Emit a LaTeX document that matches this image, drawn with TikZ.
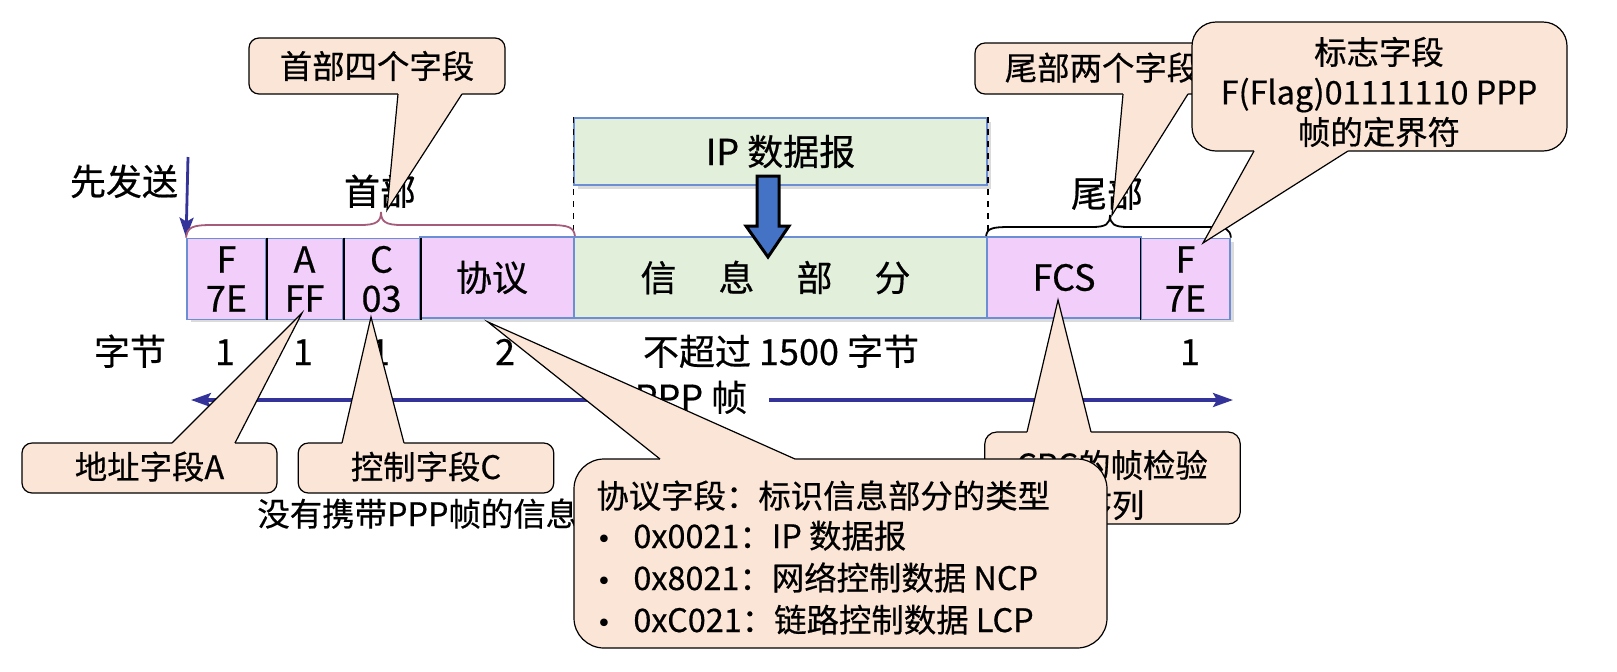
\documentclass[tikz,border=0pt]{standalone}
\usepackage{fontspec}
\setmainfont{Noto Sans CJK SC}[FakeBold=0.5]
\newfontfamily\dejavu{DejaVu Sans}
\usetikzlibrary{arrows.meta,calc}
\definecolor{cofill}{HTML}{FBE5D6}
\definecolor{pinkf}{HTML}{F2CFFA}
\definecolor{greenf}{HTML}{E2EFDA}
\definecolor{boxb}{HTML}{6C8ED4}
\definecolor{navy}{HTML}{333399}
\definecolor{barrow}{HTML}{4472C4}
\definecolor{mauve}{HTML}{A65B7A}
\newcommand{\myfs}{\fontsize{16.2pt}{19.5pt}\selectfont}
\newcommand{\bigfs}{\fontsize{18pt}{20pt}\selectfont}
\newcommand{\cptr}[4]{%
  \fill[cofill] ($#1+#4$) -- #1 -- #3 -- #2 -- ($#2+#4$) -- cycle;
  \draw[line width=0.6pt,line join=miter] #1 -- #3 -- #2;}
\begin{document}
\begin{tikzpicture}[x=0.5pt,y=-0.5pt,font=\myfs,
  every node/.style={inner sep=0pt},
  txt/.style={text height=0.8em,text depth=0.2em},
  big/.style={txt,font=\bigfs},
  pbox/.style={draw=boxb,fill=pinkf,line width=0.9pt,minimum height=40.5pt,align=center,inner sep=0pt,font=\fontsize{18pt}{19.5pt}\selectfont},
  gbox/.style={pbox,fill=greenf},
  co/.style={draw=black,fill=cofill,line width=0.6pt,rounded corners=5pt,align=center},
  nav/.style={draw=navy,line width=1.6pt},
  navtip/.style={-{Stealth[length=10pt,width=7pt,inset=2pt]}},
  bothtip/.style={{Stealth[length=10pt,width=7pt,inset=2pt]}-{Stealth[length=10pt,width=7pt,inset=2pt]}},
  divider/.style={draw=black,line width=0.6pt},
  bul/.style={txt,font=\dejavu\fontsize{13pt}{15pt}\selectfont}
]
\useasboundingbox (0,0) rectangle (1617,671);
% shadows
\fill[black!14] (191,242) rectangle (1234,322);
\fill[black!14] (578,122) rectangle (991,189);
% IP datagram
\node[gbox,minimum width=206.5pt,minimum height=33.5pt,font=\bigfs] (ip) at (780.5,151.5) {IP 数据报};
% frame row
\node[pbox,minimum width=39.5pt] (bF) at (226.5,279) {F\\7E};
\node[pbox,minimum width=38.5pt] (bA) at (304.5,279) {A\\FF};
\node[pbox,minimum width=38.5pt] (bC) at (381.5,279) {C\\03};
\node[pbox,minimum width=77pt,font=\bigfs] (bP) at (497,277.5) {协议\hspace*{5pt}};
\node[gbox,minimum width=206.5pt,font=\bigfs] (bI) at (780.5,277.5) {信\hspace{21pt}息\hspace{21pt}部\hspace{21pt}分\hspace*{5pt}};
\node[pbox,minimum width=77pt,font=\bigfs] (bS) at (1064,277.5) {FCS};
\node[pbox,minimum width=44.5pt] (bE) at (1185.5,279) {F\\7E};
\draw[divider] (bF.north east) -- (bF.south east);
\draw[divider] (bA.north east) -- (bA.south east);
\draw[divider] (bC.north east) -- (bC.south east);
\draw[divider] (bE.north west) -- (bE.south west);
% dashed guides
\draw[dashed,line width=0.6pt] (ip.north west) -- (bI.north west);
\draw[dashed,line width=0.6pt] (ip.north east) -- (bI.north east);
% block arrow
\draw[fill=barrow,draw=black,line width=1.5pt,line join=miter]
  (757,176) -- (779,176) -- (779,226) -- (789,226) -- (768,257) -- (746,226) -- (757,226) -- cycle;
% send first
\node[big] (send) at (124,189) {先发送};
\coordinate (sendtop) at (188,157);
\draw[nav,navtip,line width=1.4pt] (sendtop) -- (bF.north west);
% braces
\node[big] (head) at (380,199) {首部};
\node[big] (tail) at (1107,201) {尾部};
\draw[mauve,line width=0.9pt] (bF.north west) .. controls (187,227) and (193,225) .. (212,225) -- (360,225) .. controls (376,225) and (381,222) .. (381,212) .. controls (381,222) and (386,225) .. (402,225) -- (549,225) .. controls (568,225) and (574,227) .. (bP.north east);
\draw[black,line width=0.9pt] (bS.north west) .. controls (987,228) and (993,227) .. (1010,227) -- (1092,227) .. controls (1106,227) and (1110,224) .. (1110,215) .. controls (1110,224) and (1114,227) .. (1128,227) -- (1210,227) .. controls (1226,227) and (1230,229) .. (bE.north east);
% byte counts
\node[big] (lb) at (130,359) {字节};
\node[big] (n1) at (225,359) {1};
\node[big] (n2) at (303,359) {1};
\node[big] (n3) at (380,359) {1};
\node[big] (n4) at (505,359) {2};
\node[big] (n5) at (781,359) {不超过 1500 字节};
\node[big] (n6) at (1061,359) {2};
\node[big] (n7) at (1190,359) {1};
% PPP frame arrow
\coordinate (pl) at (191,400);
\coordinate (pr) at (1233,400);
\draw[nav,bothtip] (pl) -- (pr);
\node[big,fill=white,inner xsep=11pt] (ppp) at (691,405) {PPP 帧};
\node[txt,anchor=west] (nocarry) at (257,520) {没有携带PPP帧的信息};
% callouts
\node[co,minimum width=128pt,minimum height=28pt] (cH) at (377,66) {首部四个字段};
\cptr{(398,94)}{(462,94)}{(387,210)}{(0,-3)}
\node[co,minimum width=127.5pt,minimum height=25.5pt] (cT) at (1102.5,68.5) {};
\node[txt] (cTt) at (1102,74) {尾部两个字段};
\cptr{(1123,94)}{(1188,94)}{(1112,215)}{(0,-3)}
\node[co,rounded corners=12pt,minimum width=187.5pt,minimum height=64.5pt] (cF) at (1379.5,86.5) {};
\node[align=center,font=\fontsize{16.2pt}{20pt}\selectfont] (cFt) at (1379,92) {标志字段\\F(Flag)01111110 PPP\\帧的定界符};
\cptr{(1254,151)}{(1348,151)}{(1203,243)}{(0,-3)}
\node[co,minimum width=127.5pt,minimum height=25pt] (cA) at (149.5,468) {};
\node[txt] (cAt) at (149.5,473) {地址字段A};
\cptr{(172,443)}{(235,443)}{(302,313)}{(0,3)}
\node[co,minimum width=127.75pt,minimum height=25pt] (cC) at (426,468) {};
\node[txt] (cCt) at (426,473) {控制字段C};
\cptr{(342,443)}{(404,443)}{(371,317)}{(0,3)}
\node[co,rounded corners=6pt,minimum width=127.75pt,minimum height=46pt] (cR) at (1112.5,478) {};
\node[align=center,font=\fontsize{16.2pt}{20pt}\selectfont] (cRt) at (1112,485) {CRC的帧检验\\序列};
\cptr{(1027,432)}{(1091,432)}{(1058,300)}{(0,3)}
\node[co,rounded corners=15pt,minimum width=266.5pt,minimum height=94.5pt] (cP) at (840.5,553.5) {};
\cptr{(660,459)}{(795,459)}{(488,322)}{(0,3)}
\node[txt,anchor=west] (p0) at (596,502) {协议字段：标识信息部分的类型};
\node[bul] (d1) at (604,542) {•};
\node[bul] (d2) at (604,584) {•};
\node[bul] (d3) at (604,626) {•};
\node[txt,anchor=west] (p1) at (633,542) {0x0021：IP 数据报};
\node[txt,anchor=west] (p2) at (633,584) {0x8021：网络控制数据 NCP};
\node[txt,anchor=west] (p3) at (633,626) {0xC021：链路控制数据 LCP};
\end{tikzpicture}
\end{document}
